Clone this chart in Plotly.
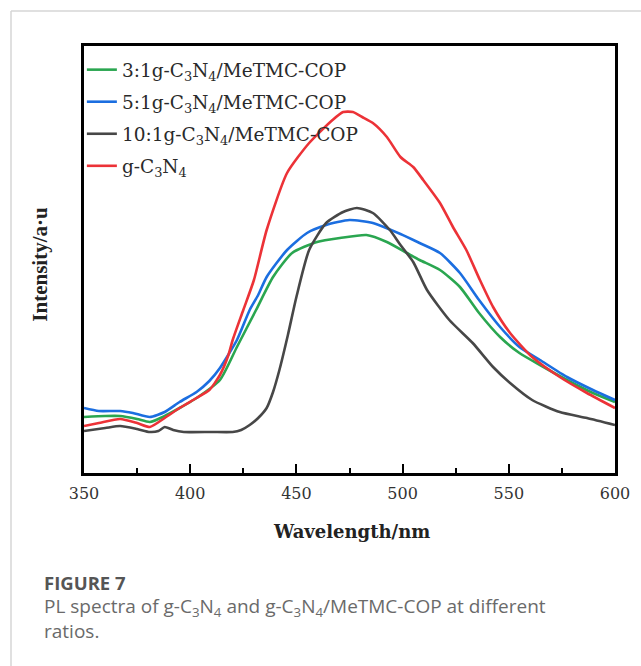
import plotly.graph_objects as go

# ---------------- data ----------------
wl_31 = [350, 360, 367, 375, 381, 388, 395, 403, 414, 422, 431, 439, 448, 459.7, 470.5,
         483, 492.6, 502, 508, 517.6, 527, 536, 545.9, 555, 564.7, 577.4, 589.6, 600]
int_31 = [56, 57, 57, 54, 51, 57, 65, 75, 93, 126, 163, 196, 220, 231, 235,
          238, 231, 220, 213, 203, 186, 160, 136, 120, 108, 93, 80, 71]

wl_51 = [350, 357, 367, 373, 381, 388, 395, 403, 409, 414, 422, 428, 432, 436, 445.6,
         455, 464, 475, 486, 499, 508, 517.6, 527, 536, 545.9, 555, 564.7, 577.4, 589.6, 600]
int_51 = [65, 62, 62, 60, 56, 61, 71, 81, 92, 105, 133, 163, 178, 196, 223,
          240, 248, 253, 250, 239, 230, 220, 200, 173, 146, 126, 113, 96, 83, 73]

wl_101 = [350, 360, 367, 375, 381, 385, 388, 392, 397, 410, 420, 424, 428, 432, 436, 439,
          442, 446, 450, 456, 464, 472, 478.5, 486, 494, 499, 505, 511.5, 522, 533, 542.6,
          550.6, 561, 574, 586.8, 600]
int_101 = [42, 45, 47, 44, 41, 42, 46, 43, 41, 41, 41, 43, 48, 55, 65, 81,
           103, 138, 176, 223, 250, 261, 265, 260, 243, 228, 211, 183, 153, 130, 106,
           90, 73, 61, 55, 48]

wl_gcn = [350, 357, 367, 375, 381, 388, 395, 403, 409, 414, 418, 420, 425, 430, 436, 445.6,
          456, 467, 472, 476.6, 481, 486, 492.6, 499, 505, 509.7, 517.6, 523.7, 530, 536.4,
          542.6, 550.6, 561, 574, 586.8, 600]
int_gcn = [47, 50, 54, 50, 46, 55, 65, 75, 83, 98, 118, 133, 163, 193, 243, 300,
           330, 353, 361, 361, 356, 350, 336, 316, 306, 293, 270, 246, 223, 193,
           166, 140, 116, 96, 80, 65]

names = ["3:1g-C<sub>3</sub>N<sub>4</sub>/MeTMC-COP",
         "5:1g-C<sub>3</sub>N<sub>4</sub>/MeTMC-COP",
         "10:1g-C<sub>3</sub>N<sub>4</sub>/MeTMC-COP",
         "g-C<sub>3</sub>N<sub>4</sub>"]
colors = ["#2aa650", "#1b6ee0", "#474747", "#ec3237"]
xs = [wl_31, wl_51, wl_101, wl_gcn]
ys = [int_31, int_51, int_101, int_gcn]

x_ticks = [350, 400, 450, 500, 550, 600]
x_minor = [375, 425, 475, 525, 575]

SERIF_W = "DejaVu Serif, serif"
SERIF = "Liberation Serif, Times New Roman, serif"
SANS = "Open Sans, Lato, sans-serif"

fig = go.Figure()
for i in range(4):
    fig.add_trace(go.Scatter(
        x=xs[i], y=ys[i], mode="lines", name=names[i],
        line=dict(color=colors[i], width=2.6, shape="spline", smoothing=0.6),
        legendgroup=str(i),
    ))

fig.update_layout(
    width=641, height=666,
    margin=dict(l=84, r=26, t=46, b=193),
    paper_bgcolor="white", plot_bgcolor="white",
    showlegend=True,
    legend=dict(x=-0.004, y=0.988, xanchor="left", yanchor="top",
                bgcolor="rgba(0,0,0,0)", borderwidth=0,
                font=dict(family=SERIF_W, size=18.5, color="#2a2a2a"),
                tracegroupgap=5, itemwidth=30),
    xaxis=dict(range=[350, 600], tickvals=x_ticks, ticktext=[str(t) for t in x_ticks],
               showgrid=False, zeroline=False,
               showline=True, linewidth=3, linecolor="black", mirror=True,
               ticks="inside", ticklen=9, tickwidth=2, tickcolor="black",
               minor=dict(ticks="inside", ticklen=5, tickwidth=2, tickcolor="black",
                          tickvals=x_minor),
               ticklabelstandoff=4,
               tickfont=dict(family=SERIF_W, size=16, color="#333")),
    yaxis=dict(range=[0, 427], showgrid=False, zeroline=False,
               showline=True, linewidth=3, linecolor="black", mirror=True,
               showticklabels=False, ticks=""),
)

annos = [
    dict(text="<b>Wavelength/nm</b>", x=0.503, y=-0.1360, xref="paper", yref="paper",
         showarrow=False, xanchor="center", yanchor="middle",
         font=dict(family=SERIF_W, size=18, color="#222")),
    dict(text="<b>Intensity/a·u</b>", x=-0.083, y=0.49, xref="paper", yref="paper",
         showarrow=False, xanchor="center", yanchor="middle", textangle=-90,
         font=dict(family=SERIF, size=21, color="#222")),
    dict(text="<b>FIGURE 7</b>", x=-0.0800, y=-0.2576, xref="paper", yref="paper",
         showarrow=False, xanchor="left", yanchor="middle", align="left",
         font=dict(family=SANS, size=18.5, color="#555555")),
    dict(text="PL spectra of g-C<sub>3</sub>N<sub>4</sub> and g-C<sub>3</sub>N<sub>4</sub>/MeTMC-COP at different",
         x=-0.0800, y=-0.3138, xref="paper", yref="paper",
         showarrow=False, xanchor="left", yanchor="middle", align="left",
         font=dict(family=SANS, size=19, color="#6a6a6a")),
    dict(text="ratios.",
         x=-0.0800, y=-0.3690, xref="paper", yref="paper",
         showarrow=False, xanchor="left", yanchor="middle", align="left",
         font=dict(family=SANS, size=19, color="#6a6a6a")),
]
fig.update_layout(annotations=annos)

# card border (top and left)
fig.update_layout(shapes=[
    dict(type="line", xref="paper", yref="paper", x0=(11 - 84) / 531, x1=(641 - 84) / 531,
         y0=(473 - 11) / 427, y1=(473 - 11) / 427, line=dict(color="#d6d6d6", width=1.5)),
    dict(type="line", xref="paper", yref="paper", x0=(11 - 84) / 531, x1=(11 - 84) / 531,
         y0=(473 - 11) / 427, y1=(473 - 666) / 427, line=dict(color="#d6d6d6", width=1.5)),
])

fig.write_html("out.html", config={"displayModeBar": False},
               post_script="document.body.style.margin='0';")
